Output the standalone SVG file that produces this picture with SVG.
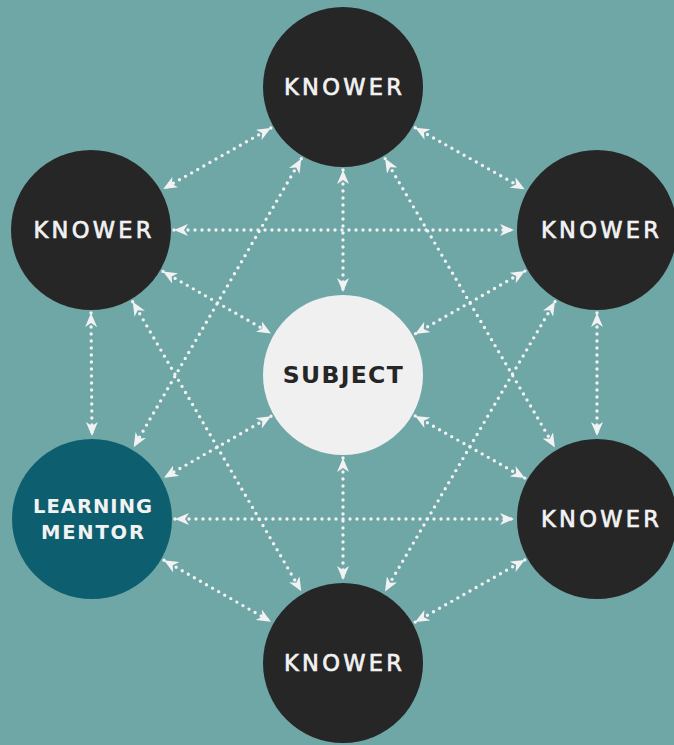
<svg xmlns="http://www.w3.org/2000/svg" width="674" height="745" viewBox="0 0 674 745">
<defs>
<marker id="ah" viewBox="0 0 14 12" refX="14" refY="6" markerWidth="14" markerHeight="12" markerUnits="userSpaceOnUse" orient="auto-start-reverse">
<path d="M0,0 L14,6 L0,12 L4,6 Z" fill="#f2f2f2"/>
</marker>
</defs>
<style>
.bg{fill:#6fa6a6}
.dark{fill:#262626}
.light{fill:#f0f0f0}
.mentor{fill:#0d5f6f}
.c line{stroke:#f2f2f2;stroke-width:3.4;stroke-linecap:round;stroke-dasharray:0 7;fill:none;marker-start:url(#ah);marker-end:url(#ah)}
.kn{font-family:"DejaVu Sans","Liberation Sans",sans-serif;font-weight:400;font-size:22.5px;fill:#f2f2f2;stroke:#f2f2f2;stroke-width:0.7;text-anchor:middle}
.sub{font-family:"DejaVu Sans","Liberation Sans",sans-serif;font-weight:700;font-size:23.5px;fill:#262626;text-anchor:middle}
.lm{font-family:"DejaVu Sans","Liberation Sans",sans-serif;font-weight:700;font-size:19.5px;fill:#f2f2f2;text-anchor:middle}
</style>
<rect class="bg" x="0" y="0" width="674" height="745"/>
<g id="connectors" class="c">
<line x1="270.8" y1="128" x2="163.2" y2="189"/>
<line x1="415.3" y1="127.7" x2="524.7" y2="189.3"/>
<line x1="343" y1="170" x2="343" y2="292"/>
<line x1="301.3" y1="158.8" x2="133.7" y2="447.2"/>
<line x1="385.1" y1="158.6" x2="554.9" y2="447.4"/>
<line x1="174" y1="230" x2="514" y2="230"/>
<line x1="163" y1="271.4" x2="271" y2="333.6"/>
<line x1="91" y1="313" x2="92" y2="436"/>
<line x1="132.7" y1="301.7" x2="301.3" y2="591.3"/>
<line x1="524.9" y1="271.1" x2="415.1" y2="333.9"/>
<line x1="597" y1="313" x2="597" y2="436"/>
<line x1="555" y1="301.6" x2="385" y2="591.4"/>
<line x1="271" y1="416.3" x2="164" y2="477.7"/>
<line x1="415.2" y1="415.9" x2="524.8" y2="478.1"/>
<line x1="343" y1="458" x2="343" y2="580"/>
<line x1="175" y1="519" x2="514" y2="519"/>
<line x1="164" y1="560.3" x2="271" y2="621.7"/>
<line x1="524.8" y1="559.9" x2="415.2" y2="622.1"/>
</g>
<g id="knower-top"><circle class="dark" cx="343" cy="87" r="80"/><text class="kn" x="343" y="95" textLength="118" lengthAdjust="spacing">KNOWER</text></g>
<g id="knower-upper-left"><circle class="dark" cx="91" cy="230" r="80"/><text class="kn" x="92.5" y="238.3" textLength="118" lengthAdjust="spacing">KNOWER</text></g>
<g id="knower-upper-right"><circle class="dark" cx="597" cy="230" r="80"/><text class="kn" x="600" y="238.3" textLength="118" lengthAdjust="spacing">KNOWER</text></g>
<g id="subject"><circle class="light" cx="343" cy="375" r="80"/><text class="sub" x="342.7" y="383.3" textLength="120" lengthAdjust="spacing">SUBJECT</text></g>
<g id="learning-mentor"><circle class="mentor" cx="92" cy="519" r="80"/><text class="lm" x="92.5" y="513" textLength="119" lengthAdjust="spacing">LEARNING</text><text class="lm" x="92.5" y="539" textLength="103" lengthAdjust="spacing">MENTOR</text></g>
<g id="knower-lower-right"><circle class="dark" cx="597" cy="519" r="80"/><text class="kn" x="600" y="527.3" textLength="118" lengthAdjust="spacing">KNOWER</text></g>
<g id="knower-bottom"><circle class="dark" cx="343" cy="663" r="80"/><text class="kn" x="343" y="671.3" textLength="118" lengthAdjust="spacing">KNOWER</text></g>
</svg>
